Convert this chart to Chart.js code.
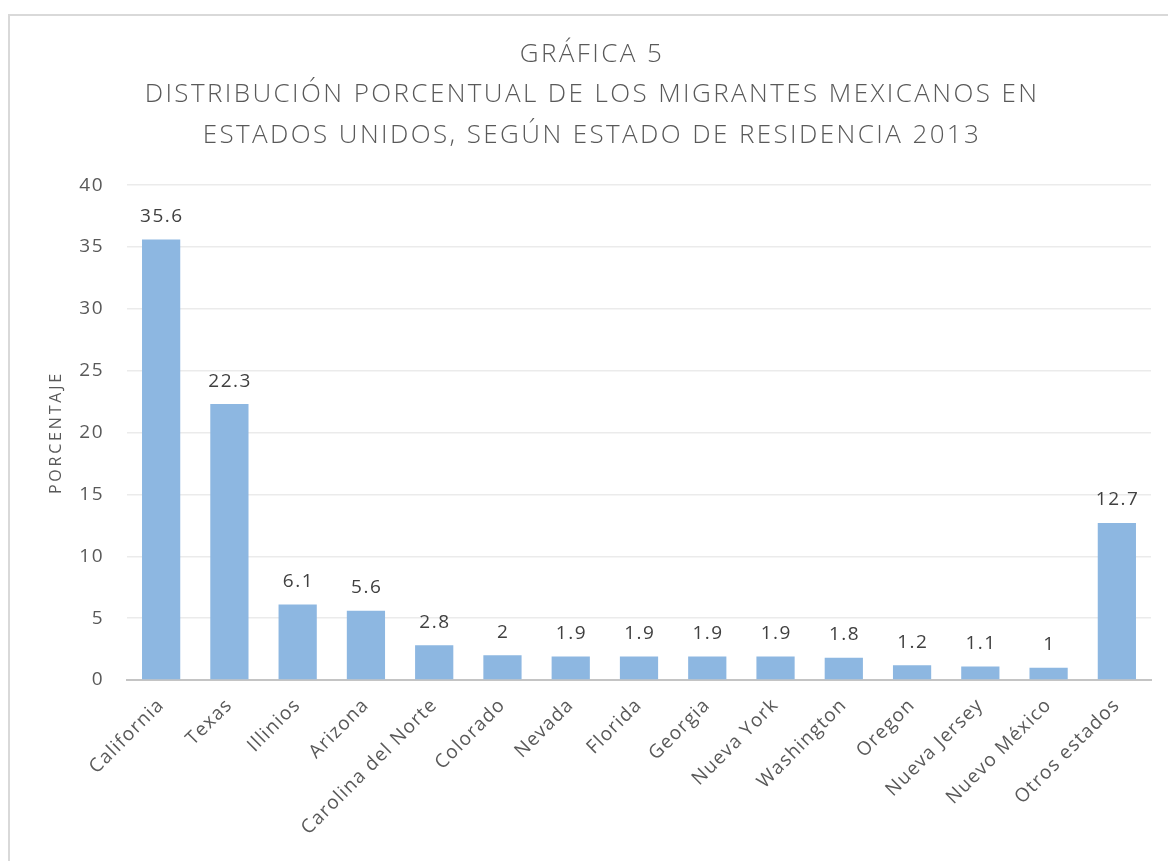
<!DOCTYPE html>
<html>
<head>
<meta charset="utf-8">
<script src="https://cdn.jsdelivr.net/npm/chart.js@4.4.1/dist/chart.umd.min.js"></script>
<style>
  html, body { margin: 0; padding: 0; background: #fff; }
  #frame { position: absolute; left: 8px; top: 14px; width: 1200px; height: 900px;
           border-left: 2px solid #d9d9d9; border-top: 2px solid #d9d9d9; box-sizing: border-box; }
  #wrap { position: absolute; left: 0; top: 0; width: 1168px; height: 861px; }
</style>
</head>
<body>
<div id="frame"></div>
<div id="wrap"><canvas id="chartCanvas"></canvas></div>
<script>
const titleLines = [
  "GRÁFICA 5",
  "DISTRIBUCIÓN PORCENTUAL DE LOS MIGRANTES MEXICANOS EN",
  "ESTADOS UNIDOS, SEGÚN ESTADO DE RESIDENCIA 2013",
];
const states = [
  "California", "Texas", "Illinios", "Arizona", "Carolina del Norte",
  "Colorado", "Nevada", "Florida", "Georgia", "Nueva York",
  "Washington", "Oregon", "Nueva Jersey", "Nuevo México", "Otros estados",
];
const percentages = [35.6, 22.3, 6.1, 5.6, 2.8, 2, 1.9, 1.9, 1.9, 1.9, 1.8, 1.2, 1.1, 1, 12.7];
const yTicks = [0, 5, 10, 15, 20, 25, 30, 35, 40];

const textGray = "#595959";

// the excel text is spaced out a bit, chart.js has no option for it
function withSpacing(obj, name, spacing) {
  if (!obj || obj["_spaced_" + name]) return;
  const orig = obj[name];
  obj[name] = function (...args) {
    const c = this.ctx;
    const prev = c.letterSpacing;
    c.letterSpacing = spacing;
    orig.apply(this, args);
    c.letterSpacing = prev;
  };
  obj["_spaced_" + name] = true;
}

const letterSpacing = {
  id: "letterSpacing",
  beforeDraw(chart) {
    withSpacing(chart.titleBlock, "draw", "2.4px");
    withSpacing(chart.scales.x, "drawLabels", "1.2px");
    withSpacing(chart.scales.y, "drawLabels", "1.5px");
    withSpacing(chart.scales.y, "drawTitle", "2.8px");
  },
};

// value labels over each bar
const barLabels = {
  id: "barLabels",
  afterDatasetsDraw(chart) {
    const ctx = chart.ctx;
    const meta = chart.getDatasetMeta(0);
    ctx.save();
    ctx.font = "19px 'Open Sans'";
    ctx.letterSpacing = "1.5px";
    ctx.fillStyle = "#404040";
    ctx.textAlign = "center";
    ctx.textBaseline = "middle";
    meta.data.forEach((bar, i) => {
      ctx.fillText(String(percentages[i]), bar.x + 0.75, bar.y - 23);
    });
    ctx.restore();
  },
};

const ctx = document.getElementById("chartCanvas").getContext("2d");
const chart = new Chart(ctx, {
  type: "bar",
  data: {
    labels: states,
    datasets: [{
      data: percentages,
      backgroundColor: "rgb(141,183,225)",
      borderWidth: 0,
      categoryPercentage: 1,
      barPercentage: 0.56,
    }],
  },
  options: {
    responsive: true,
    maintainAspectRatio: false,
    animation: false,
    layout: { padding: { left: 33, right: 17, top: 0, bottom: 0 } },
    plugins: {
      legend: { display: false },
      tooltip: { enabled: false },
      title: {
        display: true,
        text: titleLines,
        color: textGray,
        font: { family: "'Open Sans'", size: 26, weight: "300", lineHeight: 1.54 },
        padding: { top: 35, bottom: 30 },
      },
    },
    scales: {
      x: {
        grid: { display: false },
        border: { display: true, color: "#c4c4c4", width: 2 },
        ticks: {
          color: textGray,
          font: { family: "'Open Sans'", size: 19 },
          minRotation: 45,
          maxRotation: 45,
          padding: 6,
          autoSkip: false,
        },
        afterFit(scale) { scale.height = 181; },
      },
      y: {
        min: 0,
        max: 40,
        afterBuildTicks(scale) { scale.ticks = yTicks.map((v) => ({ value: v })); },
        grid: { color: "#ebebeb", lineWidth: 1.5, drawTicks: false },
        border: { display: false },
        ticks: {
          color: textGray,
          font: { family: "'Open Sans'", size: 19 },
          padding: 23,
        },
        title: {
          display: true,
          text: "PORCENTAJE",
          color: textGray,
          font: { family: "'Open Sans'", size: 16 },
          padding: { top: 14, bottom: 4 },
        },
        afterFit(scale) { scale.width = 94; },
      },
    },
  },
  plugins: [letterSpacing, barLabels],
});
</script>
</body>
</html>
